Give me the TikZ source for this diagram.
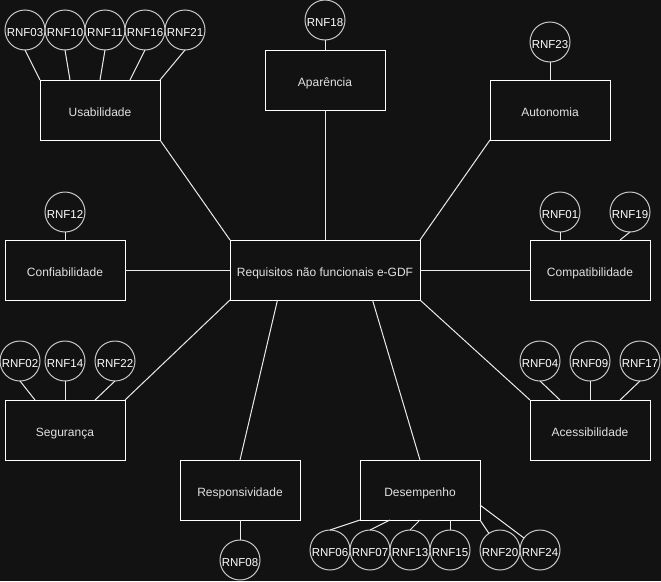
\documentclass[tikz,border=0pt]{standalone}
\usepackage{fontspec}
\setmainfont{Liberation Sans}
\usetikzlibrary{calc}
\definecolor{bgColor}{RGB}{18, 18, 18}
\definecolor{boxDraw}{RGB}{255, 255, 255}
\definecolor{rnfDraw}{RGB}{200, 200, 200}
\definecolor{lineColor}{RGB}{235, 235, 235}
\definecolor{textColor}{RGB}{225, 225, 225}
\tikzset{
    font=\fontsize{12}{14}\selectfont,
    % --- caixas de categoria ---
    reqBox/.style={
        rectangle, draw=boxDraw, line width=1pt, outer sep=0pt,
        minimum width=#1, minimum height=60pt, inner sep=0pt,
        text height=12.4pt, text depth=0pt,
        text=textColor
    },
    reqBox/.default=120pt,
    % --- circulos RNF ---
    rnfNode/.style={
        circle, draw=rnfDraw, line width=1pt, outer sep=0pt,
        minimum size=40pt, inner sep=0pt,
        text height=12pt, text depth=0pt,
        text=white, font=\fontsize{11.5}{13}\selectfont
    },
    % --- ligacoes ---
    conn/.style={
        draw=lineColor, line width=1pt
    }
}

\begin{document}
\begin{tikzpicture}[x=1pt, y=-1pt]

	% fundo escuro
	\fill[bgColor] (0, 0) rectangle (661, 581);
	\useasboundingbox (0, 0) rectangle (661, 581);

	% =========================================
	% 1. Caixas
	% =========================================
	\node[reqBox=190pt] (req) at (325, 270) {Requisitos não funcionais e-GDF};

	\node[reqBox] (usab) at (100, 110) {Usabilidade};
	\node[reqBox] (apar) at (325, 80) {Aparência};
	\node[reqBox] (auto) at (550, 110) {Autonomia};
	\node[reqBox] (conf) at (65, 270) {Confiabilidade};
	\node[reqBox] (comp) at (590, 270) {Compatibilidade};
	\node[reqBox] (segu) at (65, 430) {Segurança};
	\node[reqBox] (aces) at (590, 430) {Acessibilidade};
	\node[reqBox] (resp) at (240, 490) {Responsividade};
	\node[reqBox] (dese) at (420, 490) {Desempenho};

	% =========================================
	% 2. Circulos RNF
	% =========================================
	% Usabilidade
	\node[rnfNode] (rnf03) at (25, 30) {RNF03};
	\node[rnfNode] (rnf10) at (65, 30) {RNF10};
	\node[rnfNode] (rnf11) at (105, 30) {RNF11};
	\node[rnfNode] (rnf16) at (145, 30) {RNF16};
	\node[rnfNode] (rnf21) at (185, 30) {RNF21};

	% Aparencia / Autonomia
	\node[rnfNode] (rnf18) at (325, 20) {RNF18};
	\node[rnfNode] (rnf23) at (550, 42) {RNF23};

	% Confiabilidade / Compatibilidade
	\node[rnfNode] (rnf12) at (65, 212) {RNF12};
	\node[rnfNode] (rnf01) at (560, 212) {RNF01};
	\node[rnfNode] (rnf19) at (630, 212) {RNF19};

	% Seguranca
	\node[rnfNode] (rnf02) at (20, 361) {RNF02};
	\node[rnfNode] (rnf14) at (65, 361) {RNF14};
	\node[rnfNode] (rnf22) at (115, 361) {RNF22};

	% Acessibilidade
	\node[rnfNode] (rnf04) at (540, 361) {RNF04};
	\node[rnfNode] (rnf09) at (590, 361) {RNF09};
	\node[rnfNode] (rnf17) at (640, 361) {RNF17};

	% Responsividade
	\node[rnfNode] (rnf08) at (240, 560) {RNF08};

	% Desempenho
	\node[rnfNode] (rnf06) at (330, 550) {RNF06};
	\node[rnfNode] (rnf07) at (370, 550) {RNF07};
	\node[rnfNode] (rnf13) at (410, 550) {RNF13};
	\node[rnfNode] (rnf15) at (450, 550) {RNF15};
	\node[rnfNode] (rnf20) at (500, 550) {RNF20};
	\node[rnfNode] (rnf24) at (540, 550) {RNF24};

	% =========================================
	% 3. Ligacoes ao centro
	% =========================================
	\draw[conn] (req.north west) -- (usab.south east);
	\draw[conn] (req.north) -- (apar.south);
	\draw[conn] (req.north east) -- (auto.south west);
	\draw[conn] (req.west) -- (conf.east);
	\draw[conn] (req.east) -- (comp.west);
	\draw[conn] (req.south west) -- (segu.north east);
	\draw[conn] (req.south east) -- (aces.north west);
	\draw[conn] ($(req.south west)!0.25!(req.south east)$) -- (resp.north);
	\draw[conn] ($(req.south west)!0.75!(req.south east)$) -- (dese.north);

	% =========================================
	% 4. Ligacoes aos RNF
	% =========================================
	\draw[conn] (rnf03.south) -- (usab.north west);
	\draw[conn] (rnf10.south) -- ($(usab.north west)!0.25!(usab.north east)$);
	\draw[conn] (rnf11.south) -- (usab.north);
	\draw[conn] (rnf16.south) -- ($(usab.north west)!0.75!(usab.north east)$);
	\draw[conn] (rnf21.south) -- (usab.north east);

	\draw[conn] (rnf18.south) -- (apar.north);
	\draw[conn] (rnf23.south) -- (auto.north);

	\draw[conn] (rnf12.south) -- (conf.north);
	\draw[conn] (rnf01.south) -- ($(comp.north west)!0.25!(comp.north east)$);
	\draw[conn] (rnf19.south) -- ($(comp.north west)!0.75!(comp.north east)$);

	\draw[conn] (rnf02.south) -- ($(segu.north west)!0.25!(segu.north east)$);
	\draw[conn] (rnf14.south) -- (segu.north);
	\draw[conn] (rnf22.south) -- ($(segu.north west)!0.75!(segu.north east)$);

	\draw[conn] (rnf04.south) -- ($(aces.north west)!0.25!(aces.north east)$);
	\draw[conn] (rnf09.south) -- (aces.north);
	\draw[conn] (rnf17.south) -- ($(aces.north west)!0.75!(aces.north east)$);

	\draw[conn] (resp.south) -- (rnf08.north);

	\draw[conn] (dese.south west) -- (rnf06.north);
	\draw[conn] ($(dese.south west)!0.25!(dese.south east)$) -- (rnf07.north);
	\draw[conn] (dese.south) -- (rnf13.north);
	\draw[conn] ($(dese.south west)!0.75!(dese.south east)$) -- (rnf15.north);
	\draw[conn] (dese.south east) -- (rnf20);
	\draw[conn] ($(dese.north east)!0.75!(dese.south east)$) -- (rnf24);

\end{tikzpicture}
\end{document}
